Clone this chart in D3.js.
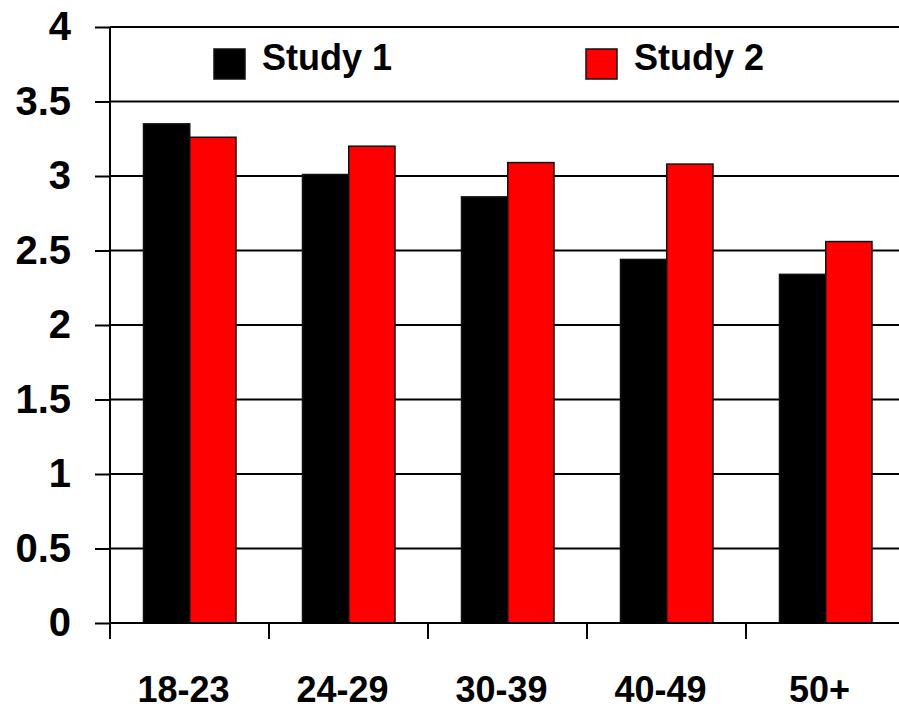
<!DOCTYPE html>
<html>
<head>
<meta charset="utf-8">
<script src="https://cdn.jsdelivr.net/npm/d3@7"></script>
<style>
  body { margin: 0; background: #fff; }
  text { font-family: "Liberation Sans", Arial, sans-serif; font-weight: bold; fill: #000; }
</style>
</head>
<body>
<div id="chart"></div>
<script>
// data
var ageGroups = ["18-23", "24-29", "30-39", "40-49", "50+"];
var seriesNames = ["Study 1", "Study 2"];
var study1 = [3.35, 3.01, 2.86, 2.44, 2.34];
var study2 = [3.26, 3.2, 3.09, 3.08, 2.56];
var yTicks = [0, 0.5, 1, 1.5, 2, 2.5, 3, 3.5, 4];
var colors = ["#000000", "#ff0000"];

var svgWidth = 899;
var svgHeight = 712;

var margin = { top: 27, right: -6, bottom: 89, left: 110 };
var width = svgWidth - margin.left - margin.right;
var height = svgHeight - margin.top - margin.bottom;

var svg = d3.select("#chart")
  .append("svg")
  .attr("width", svgWidth)
  .attr("height", svgHeight);

var chartGroup = svg.append("g")
  .attr("transform", `translate(${margin.left}, ${margin.top})`);

// scales
var x0 = d3.scaleBand()
  .domain(ageGroups)
  .range([0, width]);

var x1 = d3.scaleBand()
  .domain(seriesNames)
  .range([33.5, 126]);

var yLinearScale = d3.scaleLinear()
  .domain([0, 4])
  .range([height, 0]);

// gridlines
chartGroup.selectAll(".grid")
  .data(yTicks.filter(d => d > 0))
  .enter()
  .append("line")
  .attr("x1", 0)
  .attr("x2", width)
  .attr("y1", d => yLinearScale(d))
  .attr("y2", d => yLinearScale(d))
  .attr("stroke", "#000")
  .attr("stroke-width", 2);

// bars
var rows = ageGroups.map((g, i) => ({ group: g, values: [study1[i], study2[i]] }));

var groups = chartGroup.selectAll(".group")
  .data(rows)
  .enter()
  .append("g")
  .attr("transform", d => `translate(${x0(d.group)}, 0)`);

groups.selectAll("rect")
  .data(d => d.values.map((v, j) => ({ name: seriesNames[j], value: v, color: colors[j] })))
  .enter()
  .append("rect")
  .attr("x", d => x1(d.name))
  .attr("width", x1.bandwidth())
  .attr("y", d => yLinearScale(d.value))
  .attr("height", d => height - yLinearScale(d.value))
  .attr("fill", d => d.color)
  .attr("stroke", "#111")
  .attr("stroke-width", 1.5);

// y axis
var leftAxis = d3.axisLeft(yLinearScale)
  .tickValues(yTicks)
  .tickSize(15)
  .tickPadding(24)
  .tickFormat(d3.format("~g"));

var yAxis = chartGroup.append("g")
  .call(leftAxis);
yAxis.select(".domain").remove();
yAxis.selectAll(".tick line").attr("stroke", "#000").attr("stroke-width", 2);
yAxis.selectAll("text")
  .attr("font-size", "40px")
  .attr("font-family", "'Liberation Sans', Arial, sans-serif")
  .attr("font-weight", "bold")
  .attr("fill", "#000");

chartGroup.append("line")
  .attr("x1", 0).attr("x2", 0)
  .attr("y1", 0).attr("y2", height)
  .attr("stroke", "#000").attr("stroke-width", 2);

// x axis
chartGroup.append("line")
  .attr("x1", 0).attr("x2", width)
  .attr("y1", height).attr("y2", height)
  .attr("stroke", "#000").attr("stroke-width", 2);

var boundaries = ageGroups.map(g => x0(g));
chartGroup.selectAll(".xtick")
  .data(boundaries)
  .enter()
  .append("line")
  .attr("x1", d => d).attr("x2", d => d)
  .attr("y1", height).attr("y2", height + 16)
  .attr("stroke", "#000").attr("stroke-width", 2);

chartGroup.selectAll(".xlabel")
  .data(ageGroups)
  .enter()
  .append("text")
  .attr("x", d => x0(d) + x0.bandwidth() / 2 - 6)
  .attr("y", height + 79)
  .attr("text-anchor", "middle")
  .attr("font-size", "36px")
  .text(d => d);

// legend
var legendX = [104, 476];
var legend = chartGroup.selectAll(".legend")
  .data(seriesNames)
  .enter()
  .append("g")
  .attr("transform", (d, i) => `translate(${legendX[i]}, 22)`);

legend.append("rect")
  .attr("width", 31)
  .attr("height", 30)
  .attr("fill", (d, i) => colors[i])
  .attr("stroke", "#111")
  .attr("stroke-width", 1.5);

legend.append("text")
  .attr("x", 48)
  .attr("y", 21)
  .attr("font-size", "36px")
  .text(d => d);
</script>
</body>
</html>
